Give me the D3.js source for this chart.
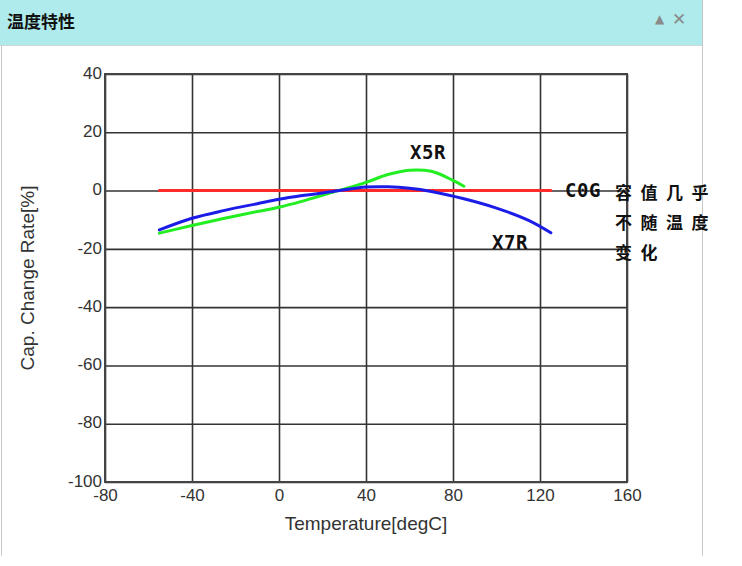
<!DOCTYPE html>
<html><head><meta charset="utf-8">
<script src="https://cdn.jsdelivr.net/npm/d3@7"></script>
<style>
html,body{margin:0;padding:0;background:#fff;}
svg{display:block;}
</style></head>
<body>
<svg id="chart" width="742" height="566"></svg>
<script>
const xTicks = [-80,-40,0,40,80,120,160];
const yTicks = [40,20,0,-20,-40,-60,-80,-100];
const x7rTemps = [-55,-40,-25,-10,0,10,25,40,50,60,70,85,100,115,125];
const x7rValues = [-13.5,-9.5,-6.8,-4.5,-3.0,-1.8,-0.3,1.2,1.3,0.8,-0.3,-2.8,-6.0,-10.3,-14.5];
const x5rTemps = [-55,-40,-25,-10,0,10,25,40,50,60,70,80,85];
const x5rValues = [-14.6,-12,-9.5,-7.2,-5.7,-3.8,-0.5,2.8,5.5,7.0,6.6,3.5,1.5];
const c0gTemps = [-55,125];
const c0gValues = [0,0];
const title = "温度特性";
const xTitle = "Temperature[degC]";
const yTitle = "Cap. Change Rate[%]";
const noteLines = ["容值几乎","不随温度","变化"];

const svg = d3.select("#chart");
// panel
svg.append("rect").attr("x",0).attr("y",0).attr("width",703).attr("height",45).attr("fill","#afebec");
svg.append("line").attr("x1",0).attr("x2",703).attr("y1",45.5).attr("y2",45.5).attr("stroke","#cfd8d8");
svg.append("line").attr("x1",1.5).attr("x2",1.5).attr("y1",45).attr("y2",556).attr("stroke","#c8c8c8");
svg.append("line").attr("x1",702.5).attr("x2",702.5).attr("y1",0).attr("y2",556).attr("stroke","#c8c8c8");
svg.append("text").attr("x",7).attr("y",28).text(title)
  .attr("font-family","Noto Sans CJK SC").attr("font-weight","bold").attr("font-size",17).attr("fill","#111");
svg.append("text").attr("x",655).attr("y",23).text("▲")
  .attr("font-family","DejaVu Sans").attr("font-size",12).attr("fill","#8a8a8a");
svg.append("text").attr("x",672).attr("y",25).text("✕")
  .attr("font-family","DejaVu Sans").attr("font-weight","bold").attr("font-size",17).attr("fill","#8a8a8a");

const x = d3.scaleLinear().domain([-80,160]).range([105,627]);
const y = d3.scaleLinear().domain([-100,40]).range([482,74]);

const g = svg.append("g");
// grid
g.append("g").attr("transform","translate(0,482)")
  .call(d3.axisBottom(x).tickValues(xTicks).tickSize(-(482-74)).tickFormat(""))
  .call(s=>s.select(".domain").remove())
  .call(s=>s.selectAll("line").attr("stroke","#333").attr("stroke-width",1.6));
g.append("g").attr("transform","translate(105,0)")
  .call(d3.axisLeft(y).tickValues(yTicks).tickSize(-(627-105)).tickFormat(""))
  .call(s=>s.select(".domain").remove())
  .call(s=>s.selectAll("line").attr("stroke","#333").attr("stroke-width",1.6));
g.append("rect").attr("x",105).attr("y",74).attr("width",522).attr("height",408)
  .attr("fill","none").attr("stroke","#444").attr("stroke-width",2);

// tick labels
const fmt = d=>String(d);
const xl = g.append("g").attr("transform","translate(0,482)")
  .call(d3.axisBottom(x).tickValues(xTicks).tickSize(0).tickPadding(5).tickFormat(fmt));
xl.select(".domain").remove();
xl.selectAll("text").attr("font-family","Liberation Sans").attr("font-size",17).attr("fill","#333").attr("dy","0.85em");
const yl = g.append("g").attr("transform","translate(105,0)")
  .call(d3.axisLeft(y).tickValues(yTicks).tickSize(0).tickPadding(3).tickFormat(fmt));
yl.select(".domain").remove();
yl.selectAll("text").attr("font-family","Liberation Sans").attr("font-size",17).attr("fill","#333").attr("dy","0.25em");

svg.append("text").attr("x",366).attr("y",530).attr("text-anchor","middle").text(xTitle)
  .attr("font-family","Liberation Sans").attr("font-size",19).attr("fill","#333");
svg.append("text").attr("transform","translate(34,278) rotate(-90)").attr("text-anchor","middle").text(yTitle)
  .attr("font-family","Liberation Sans").attr("font-size",19).attr("fill","#333");

// curves
const line = d3.line().x(d=>x(d[0])).y(d=>y(d[1])).curve(d3.curveCatmullRom.alpha(0.5));
const series = [
  {t:c0gTemps, v:c0gValues, c:"#ff2a2a"},
  {t:x5rTemps, v:x5rValues, c:"#22ee22"},
  {t:x7rTemps, v:x7rValues, c:"#1c1ce8"}
];
series.forEach(s=>{
  g.append("path").datum(d3.zip(s.t,s.v)).attr("d",line)
   .attr("fill","none").attr("stroke",s.c).attr("stroke-width",3).attr("stroke-linecap","round");
});

// labels
const lab = (txt,xx,yy)=>svg.append("text").attr("x",xx).attr("y",yy).text(txt)
  .attr("font-family","DejaVu Sans Mono").attr("font-weight","bold").attr("font-size",19)
  .attr("letter-spacing",0.5).attr("fill","#111");
lab("X5R",410,159);
lab("X7R",492,249);
lab("C0G",565,197);
noteLines.forEach((t,i)=>{
  svg.append("text").attr("x",615).attr("y",199+i*30).text(t)
    .attr("font-family","Noto Sans CJK SC").attr("font-weight","bold").attr("font-size",17)
    .attr("letter-spacing",8.5).attr("fill","#111");
});
</script>
</body></html>
